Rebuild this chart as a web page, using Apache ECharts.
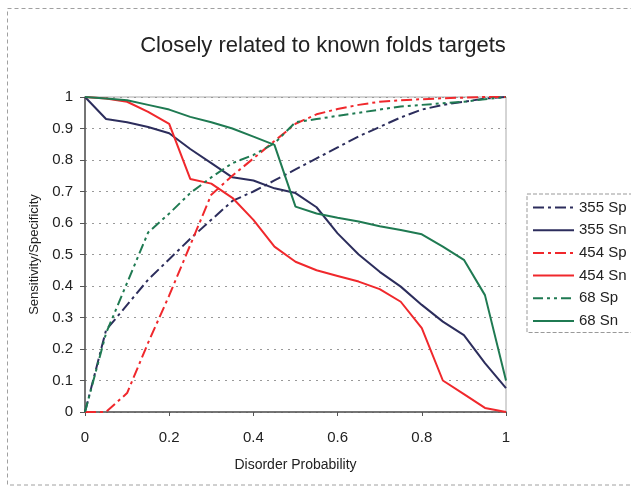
<!DOCTYPE html>
<html>
<head>
<meta charset="utf-8">
<script src="https://cdn.jsdelivr.net/npm/echarts@6/dist/echarts.min.js"></script>
<style>html,body{margin:0;padding:0;background:#fff;}#c{width:631px;height:491px;}</style>
</head>
<body>
<div id="c"></div>
<script>
const xValues = [0,0.05,0.1,0.15,0.2,0.25,0.3,0.35,0.4,0.45,0.5,0.55,0.6,0.65,0.7,0.75,0.8,0.85,0.9,0.95,1];
const sp355 = [0,0.26,0.34,0.42,0.485,0.55,0.61,0.67,0.70,0.735,0.77,0.805,0.84,0.875,0.905,0.935,0.96,0.975,0.985,0.995,1];
const sn355 = [1,0.93,0.92,0.905,0.885,0.835,0.79,0.745,0.735,0.71,0.695,0.65,0.567,0.50,0.445,0.398,0.34,0.287,0.244,0.155,0.076];
const sp454 = [0,0,0.06,0.22,0.37,0.53,0.69,0.75,0.805,0.86,0.915,0.945,0.962,0.975,0.985,0.99,0.993,0.996,0.998,1,1];
const sn454 = [1,0.995,0.985,0.953,0.915,0.74,0.725,0.68,0.61,0.525,0.477,0.45,0.432,0.414,0.39,0.35,0.266,0.10,0.057,0.013,0];
const sp68 = [0,0.25,0.41,0.57,0.63,0.695,0.745,0.79,0.816,0.853,0.92,0.93,0.94,0.95,0.96,0.97,0.975,0.98,0.985,0.993,1];
const sn68 = [1,0.995,0.99,0.975,0.96,0.937,0.92,0.90,0.874,0.848,0.652,0.63,0.617,0.605,0.59,0.578,0.564,0.525,0.483,0.371,0.10];
const seriesNames = ['355 Sp','355 Sn','454 Sp','454 Sn','68 Sp','68 Sn'];
const titleText = 'Closely related to known folds targets';
const xName = 'Disorder Probability';
const yName = 'Sensitivity/Specificity';

const NAVY = '#2c2d5c', RED = '#f0282c', GREEN = '#1f7a52';
const dashDot = [11,4,3,4];
const dashDotDot = [10,4,3,4,3,4];
function pts(arr){ return xValues.map((x,i)=>[x,arr[i]]); }
function mk(name, arr, color, type){
  return {name, type:'line', data:pts(arr), symbol:'none', showSymbol:false, smooth:false,
    lineStyle:{color, width:2, type}, itemStyle:{color}, z:3};
}
const chart = echarts.init(document.getElementById('c'), null, {renderer:'canvas'});
chart.setOption({
  backgroundColor:'#fff',
  animation:false,
  textStyle:{fontFamily:'Liberation Sans, Arial, sans-serif'},
  title:{text:titleText, left:318, top:30, textAlign:'center',
    textStyle:{fontSize:22, fontWeight:'normal', color:'#222', fontFamily:'Liberation Sans, Arial, sans-serif'}},
  graphic:[{type:'rect', shape:{x:7.5,y:8.5,width:640,height:476.5}, silent:true, z:-1,
    style:{fill:'none', stroke:'#a0a0a0', lineWidth:1, lineDash:[4,3]}}],
  legend:{orient:'vertical', left:527, top:194, data:seriesNames,
    itemWidth:41, itemHeight:14, itemGap:7.7, padding:[6,8,4,5],
    borderColor:'#999', borderWidth:1, borderType:'dashed',
    itemStyle:{opacity:0},
    textStyle:{fontSize:15, color:'#222'}},
  grid:{left:85, right:125, top:97, bottom:79, show:true, borderColor:'#aaa', borderWidth:1},
  xAxis:{type:'value', min:0, max:1, interval:0.2, name:xName, nameLocation:'middle', nameGap:46,
    nameTextStyle:{fontSize:14, color:'#222'},
    axisLine:{lineStyle:{color:'#555', width:1.5}},
    axisTick:{show:true, length:4, inside:false, lineStyle:{color:'#555'}},
    axisLabel:{fontSize:15, color:'#222', margin:18},
    splitLine:{show:false}},
  yAxis:{type:'value', min:0, max:1, interval:0.1, name:yName, nameLocation:'middle', nameGap:44, nameRotate:90,
    nameTextStyle:{fontSize:13, color:'#222'},
    axisLine:{show:true, lineStyle:{color:'#555', width:1.5}},
    axisTick:{show:true, length:5, lineStyle:{color:'#555'}},
    axisLabel:{fontSize:15, color:'#222', margin:12},
    splitLine:{show:true, lineStyle:{color:'#999', type:[2,5], width:1}}},
  series:[
    mk('355 Sp', sp355, NAVY, dashDot),
    mk('355 Sn', sn355, NAVY, 'solid'),
    mk('454 Sp', sp454, RED, dashDot),
    mk('454 Sn', sn454, RED, 'solid'),
    mk('68 Sp', sp68, GREEN, dashDotDot),
    mk('68 Sn', sn68, GREEN, 'solid')
  ]
});
</script>
</body>
</html>
